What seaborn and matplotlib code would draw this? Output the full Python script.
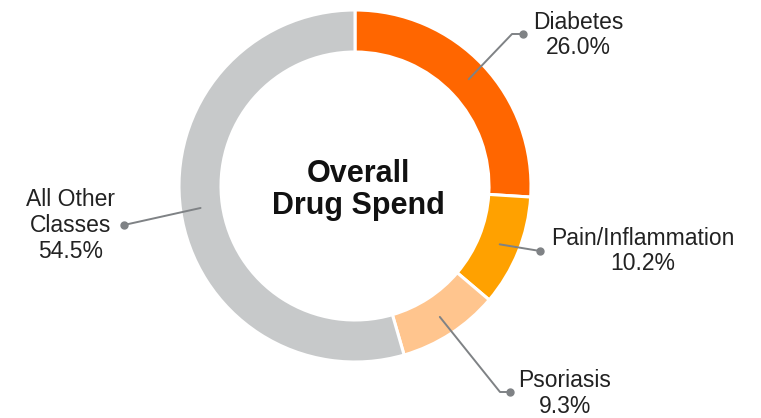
import numpy as np
import matplotlib
matplotlib.use("Agg")
import matplotlib.pyplot as plt
import seaborn as sns

# Share of overall drug spend by therapy class
categories = ["Diabetes", "Pain/Inflammation", "Psoriasis", "All Other\nClasses"]
shares = [26.0, 10.2, 9.3, 54.5]
pct_labels = ["26.0%", "10.2%", "9.3%", "54.5%"]
colors = ["#FF6600", "#FFA100", "#FFC58E", "#C7C9CA"]

sns.set_theme(style="white")
plt.rcParams["font.family"] = ["Liberation Sans", "DejaVu Sans"]

W, H = 761, 418
fig = plt.figure(figsize=(W / 100, H / 100), dpi=100)
ax = fig.add_axes([0, 0, 1, 1])
ax.set_xlim(0, W)
ax.set_ylim(0, H)
ax.set_aspect("equal")
ax.axis("off")

center = (355, 232)
radius = 176
ring = 42

palette = sns.color_palette(colors)
wedges, _ = ax.pie(
    shares,
    colors=palette,
    startangle=90,
    counterclock=False,
    radius=radius,
    center=center,
    wedgeprops=dict(width=ring, edgecolor="white", linewidth=2.2),
    frame=True,
)
ax.set_xlim(0, W)
ax.set_ylim(0, H)
ax.axis("off")

ax.text(358, 228, "Overall\nDrug Spend", ha="center", va="center",
        fontsize=22, fontweight="bold", color="#111111", linespacing=1.1)

# Leader routes: (elbow or None, dot position, label centre)
routes = [
    ((512, 384), (523, 384), (578, 383)),
    (None, (540, 167), (643, 167)),
    ((500, 26), (510, 26), (565, 24.5)),
    (None, (124, 193), (71, 192.5)),
]

line_col = "#7F8285"
for w, cat, pct, (elbow, dot, lab) in zip(wedges, categories, pct_labels, routes):
    mid = np.deg2rad((w.theta1 + w.theta2) / 2)
    r = radius - ring / 2 + 1
    start = (center[0] + r * np.cos(mid), center[1] + r * np.sin(mid))
    pts = [start] + ([elbow] if elbow else []) + [dot]
    xs, ys = zip(*pts)
    ax.plot(xs, ys, color=line_col, lw=1.4, solid_capstyle="round", zorder=3)
    ax.plot(*dot, "o", color=line_col, ms=5, zorder=4)
    ax.text(lab[0], lab[1], f"{cat}\n{pct}", ha="center", va="center",
            fontsize=16.5, color="#222222", linespacing=1.15)

fig.savefig("out.png", dpi=100, facecolor="white")
